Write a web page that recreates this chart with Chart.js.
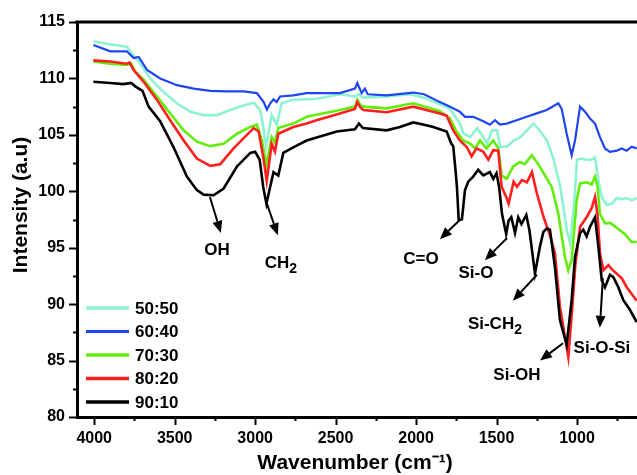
<!DOCTYPE html>
<html><head><meta charset="utf-8">
<script src="https://cdn.jsdelivr.net/npm/chart.js@4.4.1/dist/chart.umd.min.js"></script>
<style>html,body{margin:0;padding:0;background:#fff;}</style>
</head><body>
<canvas id="c" width="637" height="475"></canvas>
<script>
// ---------- data ----------
const seriesLabels = ['50:50', '60:40', '70:30', '80:20', '90:10'];

const wn5050  = [4005,3900,3797,3766,3714,3652,3569,3486,3403,3320,3237,3155,3071,3009,2968,2947,2932,2897,2866,2835,2763,2618,2473,2380,2355,2330,2183,2036,1950,1852,1789,1728,1704,1663,1621,1590,1559,1528,1497,1477,1435,1394,1352,1311,1269,1238,1186,1145,1104,1062,1043,1020,1000,971,940,909,888,867,846,816,784,753,722,691,660,629];
const int5050 = [113.3,113.0,112.8,112.2,111.3,110.0,108.8,107.8,107.05,106.75,106.75,107.2,107.6,107.85,107.2,105.5,103.95,106.75,105.9,107.8,108.1,108.2,108.6,108.4,108.6,108.3,108.4,108.6,108.3,107.7,107.3,106.0,105.1,104.8,105.6,105.0,104.25,105.4,105.4,103.95,103.95,104.5,104.8,105.4,106.0,105.5,104.5,102.8,100.4,96.5,95.4,98.5,102.8,102.9,102.8,102.8,103.0,101.0,99.5,98.8,98.9,99.4,99.3,99.4,99.2,99.4];

const wn6040  = [4005,3900,3797,3755,3724,3672,3590,3486,3382,3279,3175,3071,2989,2947,2927,2906,2886,2866,2845,2763,2680,2473,2380,2365,2338,2318,2300,2183,2017,1950,1852,1789,1728,1696,1645,1582,1541,1510,1478,1437,1375,1313,1250,1188,1116,1095,1064,1033,1012,981,950,919,888,857,826,795,753,722,691,660,629];
const int6040 = [112.96,112.4,112.4,111.8,111.9,110.75,110.0,109.4,109.1,108.9,108.85,108.85,108.7,107.9,107.25,107.8,108.15,107.9,108.4,108.5,108.7,108.7,109.1,109.6,108.7,109.1,108.6,108.5,108.75,108.6,107.9,107.5,107.05,106.6,106.6,106.2,105.9,106.3,105.9,106.0,106.3,106.6,106.9,107.2,107.8,107.3,105.1,103.2,104.5,107.5,107.05,106.45,106.0,104.8,103.8,103.5,103.6,103.8,103.6,103.95,103.8];

const wn7030  = [4005,3900,3800,3770,3745,3693,3610,3528,3444,3362,3279,3196,3113,3030,2989,2958,2930,2897,2877,2856,2763,2680,2473,2380,2365,2345,2328,2183,2017,1851,1789,1748,1707,1666,1634,1603,1562,1520,1489,1468,1437,1396,1355,1324,1281,1240,1199,1157,1116,1075,1054,1033,1002,981,940,909,888,873,857,826,795,774,733,702,660,629];
const int7030 = [111.5,111.3,111.2,111.3,110.6,109.9,108.4,106.9,105.4,104.4,104.0,104.2,105.1,105.7,105.9,104.5,102.3,104.8,104.3,105.6,106.0,106.6,107.2,107.5,108.1,107.6,107.5,107.35,107.8,107.1,106.45,105.3,104.5,104.25,103.8,104.5,103.8,104.5,103.8,101.4,101.1,102.2,102.6,102.4,103.2,102.4,101.4,100.4,98.0,94.2,93.0,93.9,99.2,100.7,100.8,100.6,101.3,100.5,98.0,97.15,97.2,97.0,96.55,96.2,95.5,95.5];

const wn8020  = [4005,3900,3800,3780,3755,3693,3610,3528,3444,3362,3279,3217,3134,3051,3009,2978,2947,2928,2897,2877,2856,2763,2680,2618,2473,2380,2365,2345,2328,2183,2017,1852,1810,1769,1728,1686,1655,1624,1582,1551,1520,1489,1468,1437,1425,1394,1373,1342,1311,1280,1249,1207,1166,1137,1106,1054,1033,1010,981,940,909,888,873,857,836,805,784,753,722,691,660,629];
const int8020 = [111.6,111.5,111.3,111.4,110.75,109.7,108.1,106.3,104.5,102.9,102.25,102.4,103.8,105.0,105.6,105.3,102.8,100.9,104.2,103.5,105.1,105.7,106.0,106.3,106.9,107.3,107.9,107.4,107.2,107.0,107.5,106.9,106.7,105.4,104.5,103.95,103.1,103.8,103.5,102.8,103.65,103.6,100.4,99.4,98.9,100.85,100.4,101.0,100.8,101.7,99.8,97.7,96.0,94.5,89.8,85.3,89.0,93.5,96.85,97.7,98.5,99.5,98.0,94.5,93.0,93.45,93.1,92.7,92.3,91.5,90.9,90.3];

const wn9010  = [4005,3900,3820,3770,3745,3700,3662,3590,3507,3424,3362,3320,3258,3196,3113,3030,3000,2972,2950,2930,2886,2856,2825,2763,2680,2493,2380,2355,2330,2183,2100,2017,1950,1893,1810,1782,1769,1755,1746,1735,1715,1696,1676,1645,1614,1582,1541,1520,1500,1484,1466,1440,1425,1408,1385,1365,1345,1315,1295,1261,1230,1209,1188,1168,1137,1106,1064,1033,1012,981,961,940,919,888,867,846,826,795,774,743,712,671,629];
const int9010 = [109.7,109.6,109.5,109.6,109.3,108.9,107.5,106.2,103.9,101.3,100.1,99.7,99.65,100.25,102.2,103.4,103.5,102.8,100.4,98.9,101.7,101.4,103.4,103.9,104.5,105.3,105.5,106.0,105.6,105.4,105.7,106.1,105.9,105.7,105.3,104.25,104.0,101.9,100.4,97.45,97.5,100.1,100.85,101.3,101.9,101.4,101.7,101.1,101.6,100.4,98.0,96.2,97.4,97.7,96.3,97.7,97.1,97.9,96.5,92.7,95.1,96.4,96.7,96.6,93.3,88.6,86.4,90.4,94.2,96.3,96.6,96.0,96.85,97.7,95.1,92.1,91.5,92.6,92.4,91.5,90.35,89.5,88.4];

const xTickValues  = [4000,3750,3500,3250,3000,2750,2500,2250,2000,1750,1500,1250,1000,750];
const yTickValues  = [80,82.5,85,87.5,90,92.5,95,97.5,100,102.5,105,107.5,110,112.5,115];
const xTitleText = 'Wavenumber (cm\u207B\u00B9)';
const yTitleText = 'Intensity (a.u)';
const bandLabels = ['OH', 'CH2', 'C=O', 'Si-O', 'Si-CH2', 'Si-OH', 'Si-O-Si'];

// ---------- styling / placement ----------
const colors = ['#8ef3d2', '#1f45f0', '#62ee0a', '#ff1f1f', '#000000'];
const widths = [2.6, 2.2, 2.6, 2.6, 2.6];
const FONT = "'Liberation Sans', Arial, sans-serif";
// arrow [from wn, from I, to wn, to I], text anchor [wn, I]
const bandPlacement = [
  {arrow:[3281,99.5,3213,96.3],  text:[3237,94.8]},
  {arrow:[2928,98.95,2859,96.1], text:[2840,93.6]},
  {arrow:[1728,97.45,1852,95.76],text:[1970,94.0]},
  {arrow:[1435,95.85,1572,93.9], text:[1628,92.75]},
  {arrow:[1249,92.6,1398,90.3],  text:[1510,88.2]},
  {arrow:[1087,86.54,1230,85.0], text:[1373,83.7]},
  {arrow:[839,92.3,858,87.9],    text:[845,86.1]}
];

const seriesX = [wn5050, wn6040, wn7030, wn8020, wn9010];
const seriesY = [int5050, int6040, int7030, int8020, int9010];

const datasets = seriesLabels.map((lab, i) => ({
  label: lab,
  data: seriesX[i].map((x, j) => ({x: x, y: seriesY[i][j]})),
  borderColor: colors[i],
  backgroundColor: colors[i],
  borderWidth: widths[i],
  pointRadius: 0,
  tension: 0,
  fill: false,
  order: 5 - i
}));

function drawRich(ctx, txt, x, y, size) {
  // handles trailing subscript "2" in CH2
  const m = txt.match(/^(.*H)2$/);
  ctx.font = 'bold ' + size + 'px ' + FONT;
  if (!m) { ctx.textAlign = 'center'; ctx.fillText(txt, x, y); return; }
  const main = m[1];
  const wMain = ctx.measureText(main).width;
  ctx.font = 'bold ' + Math.round(size * 0.8) + 'px ' + FONT;
  const wSub = ctx.measureText('2').width;
  const start = x - (wMain + wSub) / 2;
  ctx.textAlign = 'left';
  ctx.font = 'bold ' + size + 'px ' + FONT;
  ctx.fillText(main, start, y);
  ctx.font = 'bold ' + Math.round(size * 0.8) + 'px ' + FONT;
  ctx.fillText('2', start + wMain, y + size * 0.35);
}

const decorPlugin = {
  id: 'decor',
  afterDraw(chart) {
    const {ctx, chartArea: ca, scales: {x, y}} = chart;
    ctx.save();
    ctx.strokeStyle = '#000';
    ctx.fillStyle = '#000';
    // top frame line
    ctx.lineWidth = 3;
    ctx.beginPath(); ctx.moveTo(ca.left - 1.5, ca.top); ctx.lineTo(chart.width, ca.top); ctx.stroke();
    // tick marks
    ctx.lineWidth = 2;
    xTickValues.forEach(v => {
      const px = Math.round(x.getPixelForValue(v)) + 0.5;
      const len = (v % 500 === 0) ? 8 : 4;
      ctx.beginPath(); ctx.moveTo(px, ca.bottom); ctx.lineTo(px, ca.bottom + len); ctx.stroke();
    });
    yTickValues.forEach(v => {
      const py = Math.round(y.getPixelForValue(v)) + 0.5;
      const len = (v % 5 === 0) ? 8 : 4;
      ctx.beginPath(); ctx.moveTo(ca.left, py); ctx.lineTo(ca.left - len, py); ctx.stroke();
    });
    // y title
    ctx.save();
    ctx.translate(21, 205);
    ctx.rotate(-Math.PI / 2);
    ctx.font = 'bold 21px ' + FONT;
    ctx.textAlign = 'center'; ctx.textBaseline = 'middle';
    ctx.fillText(yTitleText, 0, 0);
    ctx.restore();
    // x title
    ctx.font = 'bold 21px ' + FONT;
    ctx.textAlign = 'center'; ctx.textBaseline = 'middle';
    ctx.fillText(xTitleText, 355, 463);
    // legend
    chart.data.datasets.forEach((ds, i) => {
      const ly = 308 + i * 23.5;
      ctx.strokeStyle = ds.borderColor;
      ctx.lineWidth = ds.borderWidth + 1;
      ctx.beginPath(); ctx.moveTo(86, ly); ctx.lineTo(129, ly); ctx.stroke();
      ctx.fillStyle = '#000';
      ctx.font = 'bold 17px ' + FONT;
      ctx.textAlign = 'left'; ctx.textBaseline = 'middle';
      ctx.fillText(ds.label, 135, ly + 1);
    });
    // band annotations
    ctx.strokeStyle = '#000'; ctx.fillStyle = '#000';
    bandLabels.forEach((lab, i) => {
      const p = bandPlacement[i];
      const x1 = x.getPixelForValue(p.arrow[0]), y1 = y.getPixelForValue(p.arrow[1]);
      const x2 = x.getPixelForValue(p.arrow[2]), y2 = y.getPixelForValue(p.arrow[3]);
      const ang = Math.atan2(y2 - y1, x2 - x1);
      const hl = 12, hw = 5;
      const bx = x2 - hl * Math.cos(ang), by = y2 - hl * Math.sin(ang);
      ctx.lineWidth = 2;
      ctx.beginPath(); ctx.moveTo(x1, y1); ctx.lineTo(bx, by); ctx.stroke();
      ctx.beginPath();
      ctx.moveTo(x2, y2);
      ctx.lineTo(bx + hw * Math.sin(ang), by - hw * Math.cos(ang));
      ctx.lineTo(bx - hw * Math.sin(ang), by + hw * Math.cos(ang));
      ctx.closePath(); ctx.fill();
      ctx.textBaseline = 'middle';
      drawRich(ctx, lab, x.getPixelForValue(p.text[0]), y.getPixelForValue(p.text[1]), 17);
    });
    ctx.restore();
  }
};

new Chart(document.getElementById('c'), {
  type: 'line',
  data: {datasets: datasets},
  plugins: [decorPlugin],
  options: {
    responsive: false,
    animation: false,
    devicePixelRatio: 1,
    layout: {padding: {left: 0, top: 22, right: 0, bottom: 0}},
    plugins: {legend: {display: false}, tooltip: {enabled: false}},
    scales: {
      x: {
        type: 'linear', reverse: true, min: 627, max: 4107,
        afterBuildTicks: s => { s.ticks = xTickValues.map(v => ({value: v})); },
        afterFit: s => { s.height = 58; },
        grid: {display: false, drawTicks: false},
        border: {display: true, color: '#000', width: 3},
        ticks: {
          autoSkip: false, maxRotation: 0, padding: 12, color: '#000',
          font: {family: FONT, size: 16, weight: 'bold'},
          callback: v => (v % 500 === 0 ? String(v) : '')
        }
      },
      y: {
        min: 80, max: 115,
        afterBuildTicks: s => { s.ticks = yTickValues.map(v => ({value: v})); },
        afterFit: s => { s.width = 77; },
        grid: {display: false, drawTicks: false},
        border: {display: true, color: '#000', width: 3},
        ticks: {
          autoSkip: false, padding: 12, color: '#000',
          font: {family: FONT, size: 16, weight: 'bold'},
          callback: v => (v % 5 === 0 ? String(v) : '')
        }
      }
    }
  }
});
</script>
</body></html>
